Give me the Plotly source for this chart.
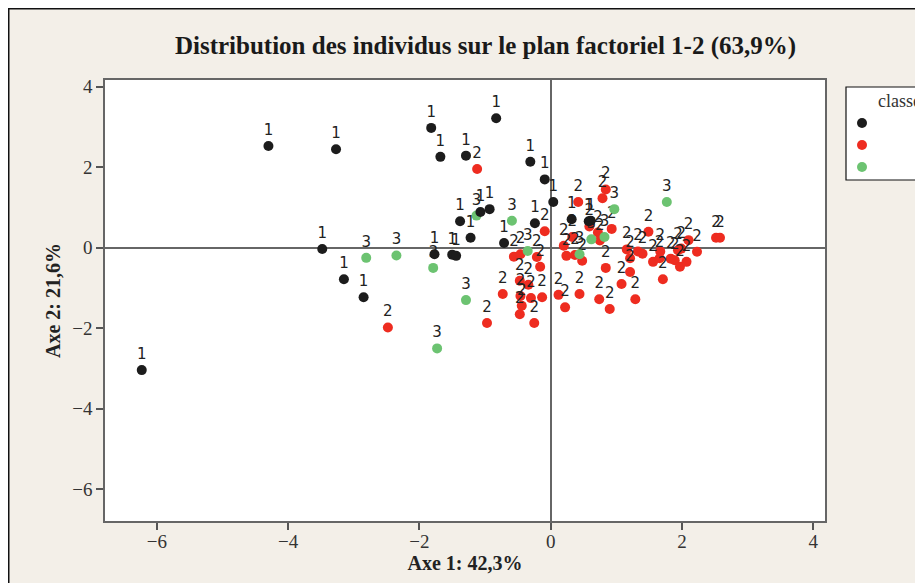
import plotly.graph_objects as go

# Class 1 (black)
x1 = [-6.23, -4.30, -3.27, -1.82, -1.68, -1.29, -0.83, -0.31, -0.09, 0.04,
      -1.07, -0.93, -1.38, -1.22, -0.71, -0.24, -3.48, -3.15, -2.85, -1.77,
      -1.50, -1.44, 0.32, 0.58, 0.61]
y1 = [-3.04, 2.53, 2.45, 2.98, 2.26, 2.29, 3.22, 2.14, 1.70, 1.14,
      0.89, 0.96, 0.66, 0.25, 0.12, 0.61, -0.03, -0.78, -1.23, -0.16,
      -0.17, -0.20, 0.71, 0.66, 0.67]

# Class 2 (red)
x2 = [-1.12, -2.48, -0.97, -0.73, -0.56, -0.46, -0.21, -0.16, -0.47, -0.34,
      -0.46, -0.30, -0.13, -0.44, -0.47, -0.25, -0.09, 0.12, 0.22, 0.44,
      0.74, 0.90, 1.29, 1.08, 1.21, 0.84, 0.48, 0.24, 0.37, 0.20,
      0.33, 0.42, 0.84, 0.79, 0.93, 0.59, 0.72, 0.75, 1.49, 1.16,
      1.33, 1.40, 1.21, 1.56, 1.67, 1.66, 1.83, 1.89, 1.97, 2.07,
      1.94, 1.99, 2.10, 2.23, 1.71, 2.52, 2.58]
y2 = [1.96, -1.98, -1.87, -1.15, -0.22, -0.16, -0.23, -0.47, -0.82, -0.92,
      -1.20, -1.25, -1.23, -1.44, -1.65, -1.87, 0.41, -1.17, -1.48, -1.15,
      -1.28, -1.52, -1.28, -0.90, -0.60, -0.50, -0.32, -0.20, -0.18, 0.05,
      0.27, 1.14, 1.45, 1.23, 0.47, 0.53, 0.38, 0.18, 0.40, -0.04,
      -0.09, -0.15, -0.26, -0.35, -0.09, -0.26, -0.27, -0.31, -0.47, -0.35,
      -0.06, -0.02, 0.19, -0.10, -0.78, 0.25, 0.25]

# Class 3 (green)
x3 = [-2.81, -2.35, -1.79, -1.73, -1.29, -1.13, -0.59, -0.35, 0.97, 0.82, 0.62, 0.44, 1.77]
y3 = [-0.25, -0.19, -0.50, -2.50, -1.30, 0.80, 0.67, -0.08, 0.96, 0.27, 0.21, -0.16, 1.14]

classes = ["1", "2", "3"]
colors = ["#1c1c1c", "#EE2C20", "#6CC371"]

title_text = "Distribution des individus sur le plan factoriel 1-2 (63,9%)"
xtitle = "Axe 1: 42,3%"
ytitle = "Axe 2: 21,6%"
legend_title = "classes"
xticks = [-6, -4, -2, 0, 2, 4]
yticks = [-6, -4, -2, 0, 2, 4]

# page body margin offset (browser default 8px)
OFF = 8
W, H = 923 - OFF, 583 - OFF
ML, MT = 105 - OFF, 80 - OFF
MR = W - (825 - OFF)
MB = H - (521 - OFF)
PW, PH = W - ML - MR, H - MT - MB

def px_x(p):  # page pixel -> paper
    return (p - OFF - ML) / PW

def px_y(p):
    return (H - MB - (p - OFF)) / PH

fig = go.Figure()
series = [(x2, y2, 1), (x3, y3, 2), (x1, y1, 0)]
for xs, ys, k in series:
    fig.add_trace(go.Scatter(
        x=xs, y=ys, mode="markers+text",
        text=[classes[k]] * len(xs), textposition="top center",
        textfont=dict(family="DejaVu Sans", size=15, color="#222222"),
        marker=dict(color=colors[k], size=10, line=dict(width=0)),
        name=classes[k], showlegend=False,
    ))

axis_common = dict(
    showgrid=False, zeroline=True, zerolinecolor="#666666", zerolinewidth=1.5,
    showline=True, linecolor="#666666", linewidth=1.5, mirror=True,
    ticks="outside", ticklen=7, tickwidth=1.5, tickcolor="#555555",
    tickfont=dict(family="Liberation Serif", size=19, color="#333333"),
)
title_font = dict(family="Liberation Serif", size=20, color="#222222", weight="bold")
fig.update_xaxes(range=[-6.79, 4.18], tickvals=xticks, ticklabelstandoff=-5,
                 title=dict(text=xtitle, standoff=4, font=title_font),
                 **axis_common)
fig.update_yaxes(range=[-6.79, 4.17], tickvals=yticks,
                 title=dict(text=ytitle, standoff=6, font=title_font),
                 **axis_common)

shapes = [
    # outer frame along the figure edge
    dict(type="rect", xref="paper", yref="paper",
         x0=px_x(OFF + 0.75), x1=px_x(960), y0=px_y(640), y1=px_y(OFF + 0.75),
         line=dict(color="#111111", width=1.5), fillcolor="rgba(0,0,0,0)", layer="below"),
    # legend box
    dict(type="rect", xref="paper", yref="paper",
         x0=px_x(846), x1=px_x(960), y0=px_y(180), y1=px_y(87),
         line=dict(color="#111111", width=1.2), fillcolor="white"),
]
annotations = [
    dict(text=legend_title, xref="paper", yref="paper", x=px_x(876), y=px_y(101),
         xanchor="left", yanchor="middle", showarrow=False,
         font=dict(family="Liberation Serif", size=18, color="#333333")),
]
leg_y = [123, 145, 167]
for k, cy in enumerate(leg_y):
    shapes.append(dict(type="circle", xref="paper", yref="paper",
                       xsizemode="pixel", ysizemode="pixel",
                       xanchor=px_x(862), yanchor=px_y(cy),
                       x0=-5, x1=5, y0=-5, y1=5,
                       fillcolor=colors[k], line=dict(width=0)))
    annotations.append(dict(text=classes[k], xref="paper", yref="paper",
                            x=px_x(915), y=px_y(cy), xanchor="left", yanchor="middle",
                            showarrow=False,
                            font=dict(family="Liberation Serif", size=18, color="#333333")))

fig.update_layout(
    width=W, height=H,
    margin=dict(l=ML, r=MR, t=MT, b=MB, autoexpand=False),
    paper_bgcolor="#F3EFE8", plot_bgcolor="white",
    title=dict(text=title_text, x=(485.5 - OFF) / W, xanchor="center",
               y=1 - (45 - OFF) / H, yanchor="middle", yref="container",
               font=dict(family="Liberation Serif", size=25, color="#1a1a1a", weight="bold")),
    shapes=shapes, annotations=annotations,
    showlegend=False,
)

fig.write_html("out.html")
